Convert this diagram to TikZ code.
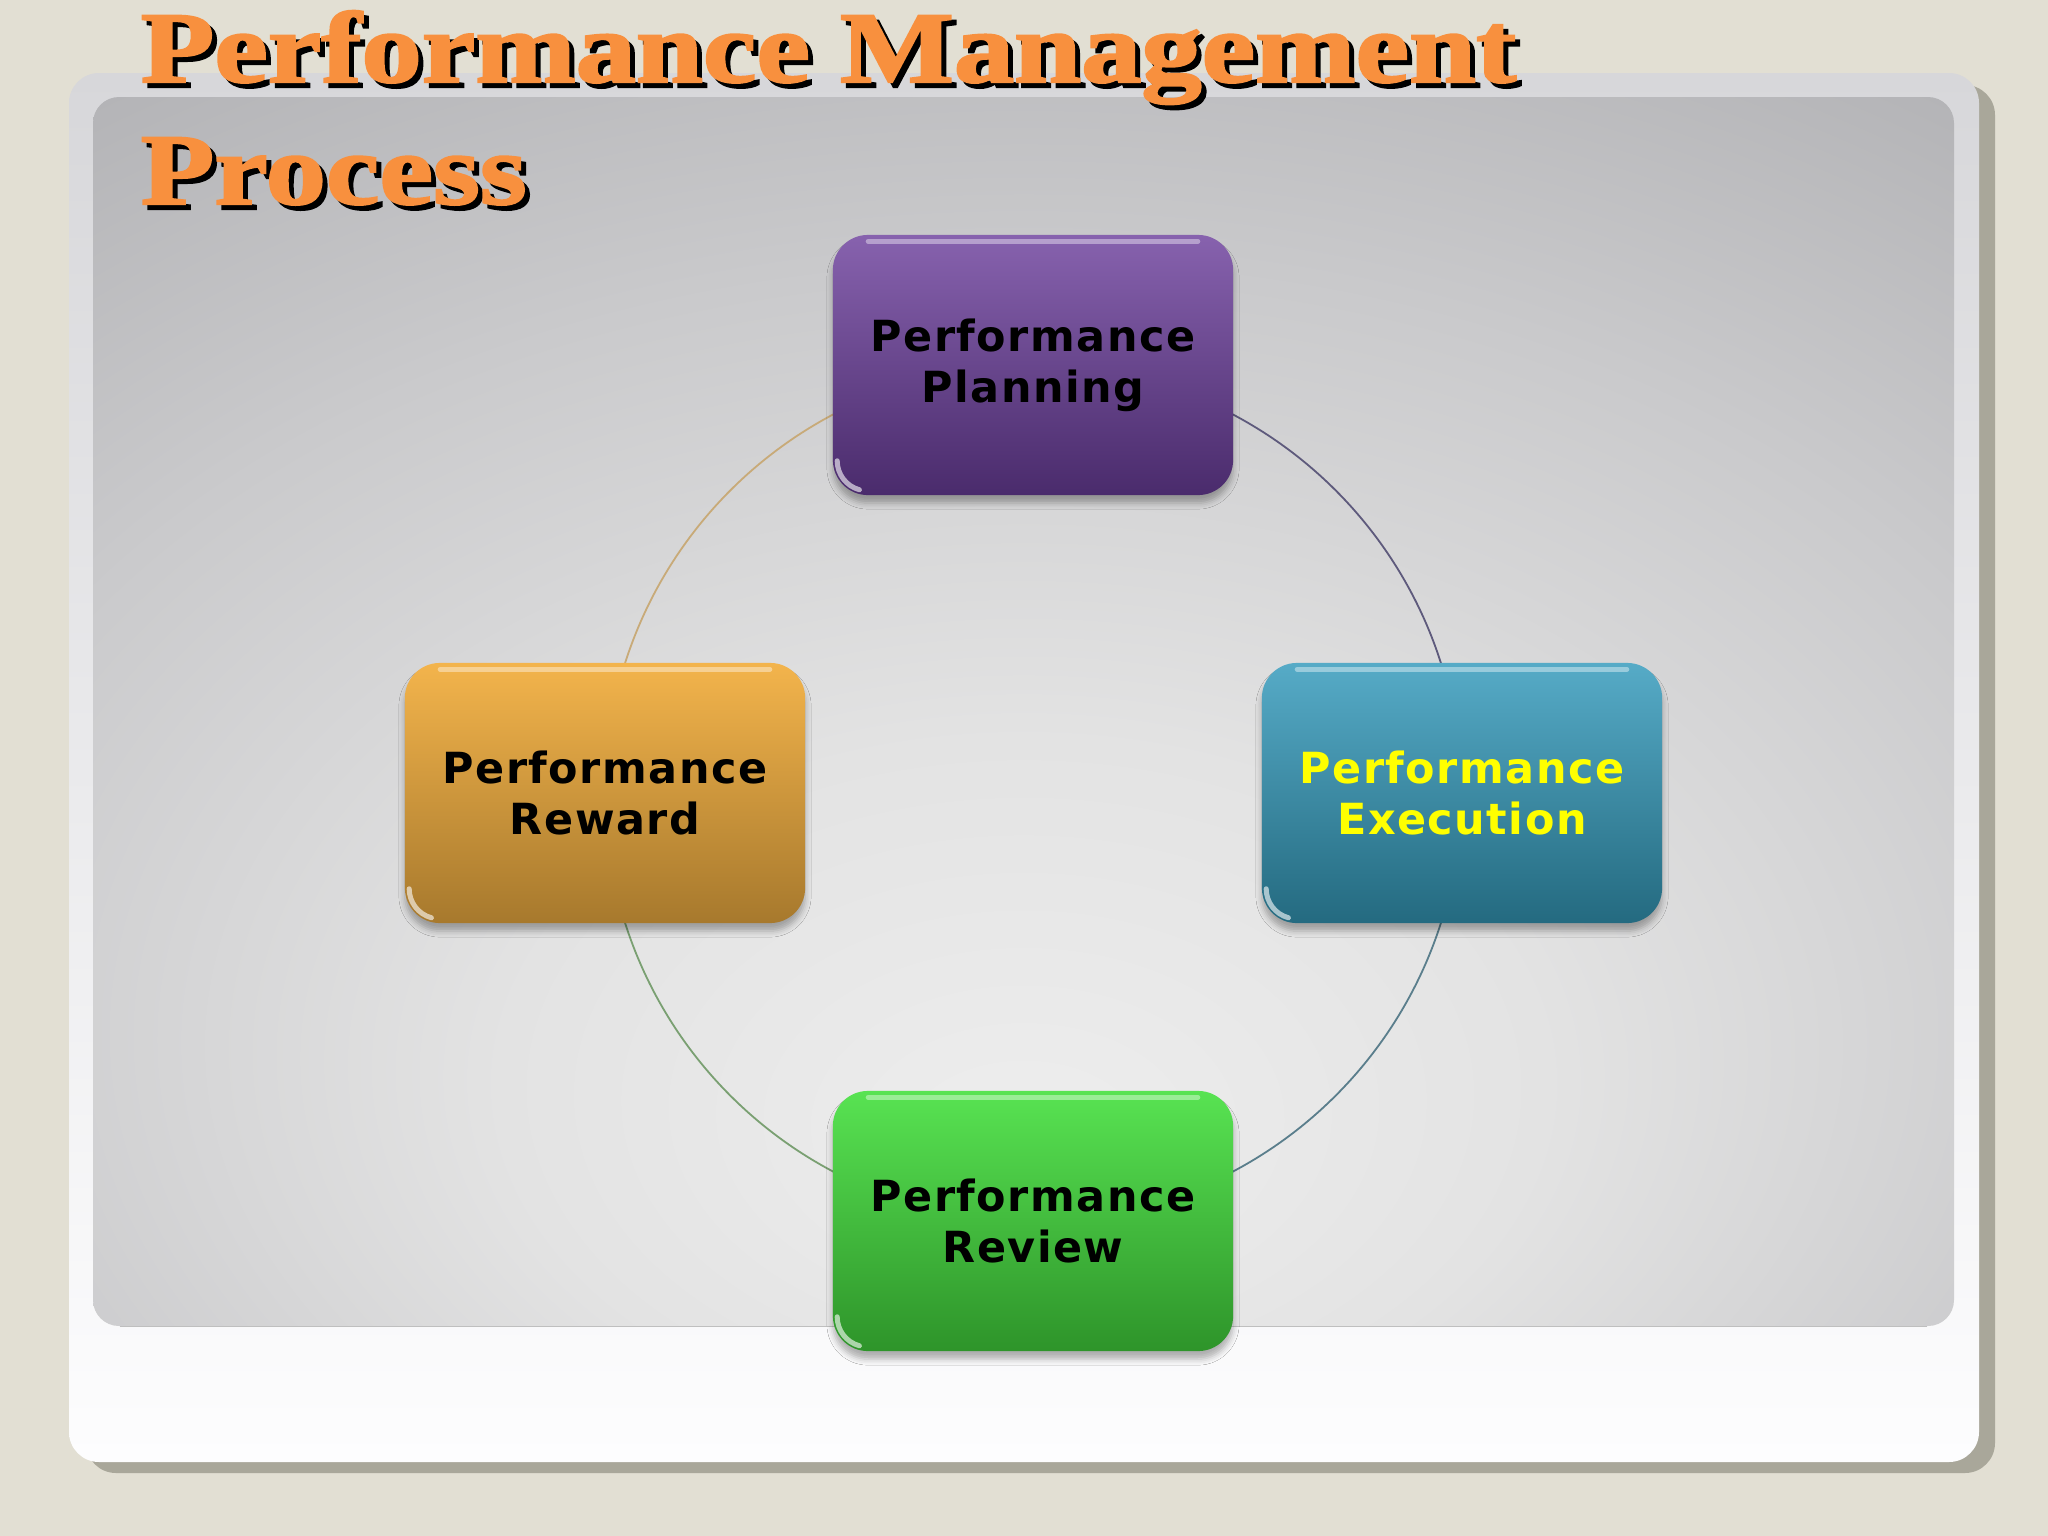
\documentclass[tikz,border=0pt]{standalone}
\usepackage{fontspec}
\usetikzlibrary{shadows.blur}
\newfontfamily\titlefont[BoldFeatures={FakeBold=2}]{Liberation Serif}
\newfontfamily\boxfont[LetterSpace=3.5]{DejaVu Sans}
\definecolor{pagebg}{HTML}{E2DFD3}
\definecolor{panelshadow}{HTML}{A9A79A}
\definecolor{paneltop}{HTML}{D7D7DA}
\definecolor{panelbot}{HTML}{FDFDFE}
\definecolor{pcA}{HTML}{EEEEEE}
\definecolor{pcB}{HTML}{E3E3E3}
\definecolor{pcC}{HTML}{CACACC}
\definecolor{pcD}{HTML}{B3B3B6}
\definecolor{pcE}{HTML}{A6A6A9}
\definecolor{titleorange}{HTML}{F8903E}
\definecolor{plTop}{HTML}{8762AE}
\definecolor{plBot}{HTML}{4A2B6C}
\definecolor{exTop}{HTML}{56ABC7}
\definecolor{exBot}{HTML}{246A80}
\definecolor{rwTop}{HTML}{F3B44C}
\definecolor{rwBot}{HTML}{A7792D}
\definecolor{rvTop}{HTML}{58E352}
\definecolor{rvBot}{HTML}{2E942A}
\definecolor{exText}{HTML}{FFFF00}
\definecolor{arcUL}{HTML}{C8AA78}
\definecolor{arcUR}{HTML}{5E5A7C}
\definecolor{arcLR}{HTML}{5A7E8C}
\definecolor{arcLL}{HTML}{7AA072}
\pgfdeclareradialshading{panelshade}{\pgfpoint{0bp}{-18bp}}{color(0bp)=(pcA);color(14bp)=(pcB);color(30bp)=(pcC);color(43bp)=(pcD);color(56bp)=(pcE);color(90bp)=(pcE)}
\newcommand{\titleline}[1]{\scalebox{1.19}[1]{#1}}
\newcommand{\boxgloss}[1]{%
  \draw[glossline] ([xshift=0.36cm,yshift=-0.07cm]#1.north west) -- ([xshift=-0.36cm,yshift=-0.07cm]#1.north east);
  \draw[glosscorner] ([xshift=0.05cm,yshift=0.35cm]#1.south west) arc[start angle=180, end angle=255, radius=0.30cm];
}
\begin{document}
\begin{tikzpicture}[x=0.01cm,y=-0.01cm,
  pbox/.style={rounded corners=0.35cm, minimum width=4cm, minimum height=2.6cm,
    inner sep=0pt, align=center,
    font=\boxfont\bfseries\fontsize{12.2}{14.5}\selectfont,
    blur shadow={shadow xshift=0cm, shadow yshift=-0.08cm, shadow blur radius=0.06cm, shadow opacity=30}},
  glossline/.style={white, opacity=0.4, line width=0.05cm, line cap=round},
  glosscorner/.style={white, opacity=0.6, line width=0.05cm, line cap=round},
  ringarc/.style={line width=0.018cm},
  titletext/.style={anchor=base west, inner sep=0pt, text=titleorange,
    font=\titlefont\bfseries\fontsize{28.8}{34}\selectfont},
  titleshade/.style={titletext, text=black}]
\useasboundingbox[fill=pagebg] (0,0) rectangle (2048,1536);
% outer panel
\fill[panelshadow, rounded corners=0.3cm] (86,85) rectangle (1995,1473);
\shade[top color=paneltop, bottom color=panelbot, rounded corners=0.3cm] (69,73) rectangle (1979,1462);
% inner gray panel
\shade[shading=panelshade, rounded corners=0.26cm] (93,97) rectangle (1954,1326);
\draw[black!25, line width=0.01cm] (120,1326) -- (1927,1326);
% ring
\coordinate (C) at (1033,793);
\draw[ringarc, arcUL] (C) ++(180:428) arc[start angle=180, end angle=270, radius=428];
\draw[ringarc, arcUR] (C) ++(270:428) arc[start angle=270, end angle=360, radius=428];
\draw[ringarc, arcLR] (C) ++(0:428) arc[start angle=0, end angle=90, radius=428];
\draw[ringarc, arcLL] (C) ++(90:428) arc[start angle=90, end angle=180, radius=428];
% boxes
\node[pbox, top color=plTop, bottom color=plBot] (plan) at (1033,365) {Performance\\Planning};
\node[pbox, top color=exTop, bottom color=exBot, text=exText] (exec) at (1462,793) {Performance\\Execution};
\node[pbox, top color=rvTop, bottom color=rvBot] (rev) at (1033,1221) {Performance\\Review};
\node[pbox, top color=rwTop, bottom color=rwBot] (rew) at (605,793) {Performance\\Reward};
\boxgloss{plan}
\boxgloss{exec}
\boxgloss{rev}
\boxgloss{rew}
% title
\node[titleshade] (t1s) at (145,87) {\titleline{Performance Management}};
\node[titletext] (t1) at (140,82) {\titleline{Performance Management}};
\node[titleshade] (t2s) at (145,209) {\titleline{Process}};
\node[titletext] (t2) at (140,204) {\titleline{Process}};
\end{tikzpicture}
\end{document}
